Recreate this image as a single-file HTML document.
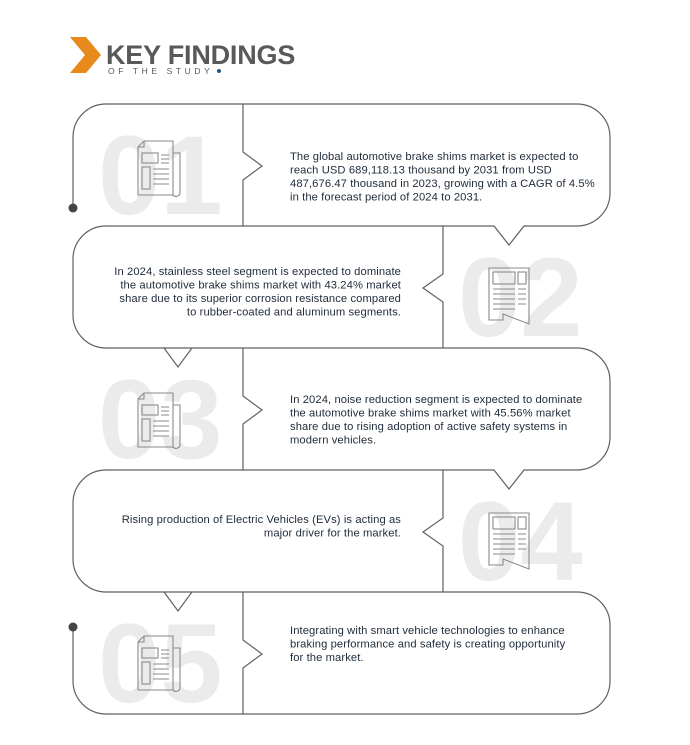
<!DOCTYPE html>
<html><head><meta charset="utf-8"><style>
html,body{margin:0;padding:0;background:#fff;}
svg{display:block;}
text{font-family:"Liberation Sans",sans-serif;}
.t{font-size:11.2px;fill:#1e2b3a;letter-spacing:0.1px;}
.n{font-size:112px;font-weight:bold;fill:#ebebeb;}
</style></head><body>
<svg width="690" height="745" viewBox="0 0 690 745" xmlns="http://www.w3.org/2000/svg">
<polygon points="70,37 86,37 101,55 86,73 70,73 85,55" fill="#e8891c"/>
<text x="106" y="64" style="font-size:27px;font-weight:bold;fill:#58595b;letter-spacing:-0.2px">KEY FINDINGS</text>
<text x="108" y="74" style="font-size:8.5px;fill:#58595b;letter-spacing:3.6px">OF THE STUDY</text>
<circle cx="219" cy="71" r="2" fill="#1d5a8a"/>

<text class="n" x="98" y="214">01</text>
<text class="n" x="458" y="336">02</text>
<text class="n" x="98" y="458">03</text>
<text class="n" x="458" y="580">04</text>
<text class="n" x="98" y="702">05</text>

<g fill="none" stroke="#606060" stroke-width="1.2">
<path d="M73,208 V137 A33,33 0 0 1 106,104 H577 A33,33 0 0 1 610,137 V193 A33,33 0 0 1 577,226 H524 L509,245 L494,226 H106"/>
<path d="M243,104 V152 L262,166 L243,180 V226"/>
<path d="M106,226 A33,33 0 0 0 73,259 V315 A33,33 0 0 0 106,348 H192 L178,367 L164,348 H577"/>
<path d="M443,226 V274 L423,288 L443,302 V348"/>
<path d="M577,348 A33,33 0 0 1 610,381 V437 A33,33 0 0 1 577,470 H524 L509,489 L494,470 H106"/>
<path d="M243,348 V396 L262,410 L243,424 V470"/>
<path d="M106,470 A33,33 0 0 0 73,503 V559 A33,33 0 0 0 106,592 H192 L178,611 L164,592 H577"/>
<path d="M443,470 V518 L423,532 L443,546 V592"/>
<path d="M73,627 V681 A33,33 0 0 0 106,714 H577 A33,33 0 0 0 610,681 V625 A33,33 0 0 0 577,592"/>
<path d="M243,592 V640 L262,654 L243,668 V714"/>
</g>
<circle cx="73" cy="208" r="4.5" fill="#444"/>
<circle cx="73" cy="627" r="4.5" fill="#444"/>

<defs>
<g id="icA" fill="none" stroke="#8a8a8a" stroke-width="1.1">
<path d="M0,6 L6,0 H35 V54 H0 Z M0,6 H6 V0"/>
<path d="M35,12 H42 V52 A4,4 0 0 1 35,54"/>
<rect x="4" y="12" width="16" height="10"/><rect x="4" y="26" width="8" height="22"/>
<path d="M23,14H31M23,18H31M23,22H31M15,28H31M15,33H31M15,38H31M15,43H31"/>
</g>
<g id="icB" fill="none" stroke="#8a8a8a" stroke-width="1.1">
<path d="M0,0 H40 V56 L14,46 L14,52 L0,52 Z"/>
<rect x="4" y="4" width="22" height="12"/><rect x="29" y="4" width="8" height="12"/>
<path d="M4,21H26M4,26H26M4,31H26M4,36H26M4,41H26M29,21H37M29,26H37M29,31H37M29,36H37"/>
</g>
</defs>
<use href="#icA" x="138" y="141"/>
<use href="#icB" x="489" y="268"/>
<use href="#icA" x="138" y="393"/>
<use href="#icB" x="489" y="513"/>
<use href="#icA" x="138" y="636"/>

<text class="t" x="290" y="160">The global automotive brake shims market is expected to</text>
<text class="t" x="290" y="173.5">reach USD 689,118.13 thousand by 2031 from USD</text>
<text class="t" x="290" y="187">487,676.47 thousand in 2023, growing with a CAGR of 4.5%</text>
<text class="t" x="290" y="200.5">in the forecast period of 2024 to 2031.</text>

<g text-anchor="end">
<text class="t" x="401" y="275">In 2024, stainless steel segment is expected to dominate</text>
<text class="t" x="401" y="288.5">the automotive brake shims market with 43.24% market</text>
<text class="t" x="401" y="302">share due to its superior corrosion resistance compared</text>
<text class="t" x="401" y="315.5">to rubber-coated and aluminum segments.</text>
</g>

<text class="t" x="290" y="403">In 2024, noise reduction segment is expected to dominate</text>
<text class="t" x="290" y="416.5">the automotive brake shims market with 45.56% market</text>
<text class="t" x="290" y="430">share due to rising adoption of active safety systems in</text>
<text class="t" x="290" y="443.5">modern vehicles.</text>

<g text-anchor="end">
<text class="t" x="401" y="523">Rising production of Electric Vehicles (EVs) is acting as</text>
<text class="t" x="401" y="536.5">major driver for the market.</text>
</g>

<text class="t" x="290" y="634">Integrating with smart vehicle technologies to enhance</text>
<text class="t" x="290" y="647.5">braking performance and safety is creating opportunity</text>
<text class="t" x="290" y="661">for the market.</text>
</svg>
</body></html>
